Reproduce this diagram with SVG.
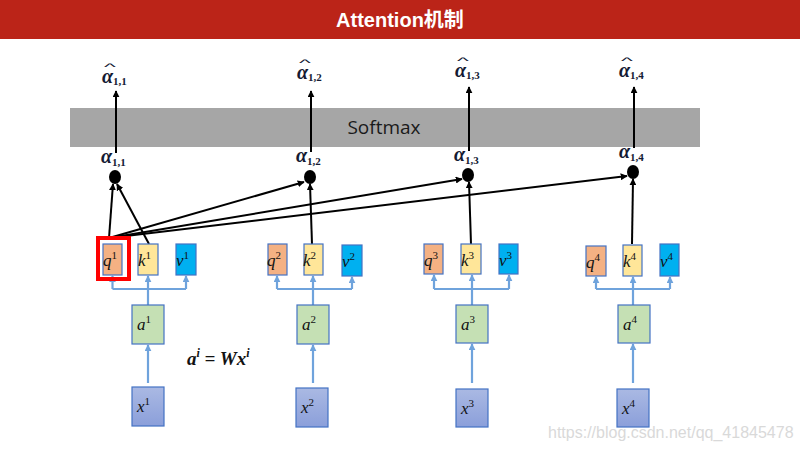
<svg xmlns="http://www.w3.org/2000/svg" width="800" height="450" viewBox="0 0 800 450">
<defs>
<marker id="ab" viewBox="0 0 10 10" refX="9" refY="5" markerWidth="7" markerHeight="7" markerUnits="userSpaceOnUse" orient="auto"><path d="M0,0 L10,5 L0,10 z" fill="#000"/></marker>
<marker id="abl" viewBox="0 0 10 10" refX="9" refY="5" markerWidth="7" markerHeight="7" markerUnits="userSpaceOnUse" orient="auto"><path d="M0,0 L10,5 L0,10 z" fill="#6FA3DC"/></marker>
<linearGradient id="gx" x1="0" y1="0" x2="0" y2="1"><stop offset="0" stop-color="#AAB9E3"/><stop offset="1" stop-color="#8B9FDA"/></linearGradient>
</defs>
<style>
.box{stroke:#4472C4;stroke-width:1.2}
.q{fill:#F4B183}.k{fill:#FFE699}.v{fill:#00B0F0}.a{fill:#C5E0B4}.x{fill:url(#gx)}
.lbl{font-family:"Liberation Serif",serif;font-style:italic;font-size:17px;fill:#111}
.sup{font-size:11px;font-style:normal}
.alpha{font-family:"Liberation Serif",serif;font-style:italic;font-weight:bold;font-size:20px;fill:#141a33}
.sub{font-size:11px;font-style:normal}
.hat{font-family:"Liberation Sans",sans-serif;font-size:14px;fill:#141a33}
.blk{stroke:#000;stroke-width:2;fill:none;marker-end:url(#ab)}
.blu{stroke:#6FA3DC;stroke-width:2.2;fill:none}
.blua{stroke:#6FA3DC;stroke-width:2.2;fill:none;marker-end:url(#abl)}
</style>
<rect x="0" y="0" width="800" height="450" fill="#fff"/>
<g id="title">
<rect x="0" y="0" width="800" height="39" fill="#BB2418"/>
<text x="400" y="27" text-anchor="middle" font-family="Liberation Sans, Noto Sans CJK SC, sans-serif" font-weight="bold" font-size="20" fill="#fff">Attention机制</text>
</g>
<g id="softmax">
<rect x="70" y="108" width="630" height="39" fill="#A6A6A6"/>
<text x="384" y="134" text-anchor="middle" font-family="Open Sans, sans-serif" font-size="19" fill="#1a1a1a">Softmax</text>
</g>
<g id="connectors">
<line class="blk" x1="116" y1="153" x2="116" y2="91"/>
<line class="blk" x1="311" y1="152" x2="311" y2="91"/>
<line class="blk" x1="469" y1="151" x2="469" y2="87"/>
<line class="blk" x1="634" y1="148" x2="634" y2="87"/>
<line class="blk" x1="109" y1="238" x2="113" y2="184"/>
<line class="blk" x1="149" y1="244" x2="117" y2="184"/>
<line class="blk" x1="109" y1="238" x2="304" y2="182"/>
<line class="blk" x1="109" y1="238" x2="462" y2="179"/>
<line class="blk" x1="109" y1="238" x2="627" y2="176"/>
<line class="blk" x1="312" y1="244" x2="310" y2="184"/>
<line class="blk" x1="471" y1="244" x2="469" y2="182"/>
<line class="blk" x1="632" y1="244" x2="633" y2="179"/>
<g id="blue-c1">
<line class="blua" x1="148" y1="305" x2="148" y2="276"/>
<polyline class="blu" points="112.5,289 186,289"/>
<line class="blua" x1="112.5" y1="289" x2="112.5" y2="276"/>
<line class="blua" x1="186" y1="289" x2="186" y2="276"/>
<line class="blua" x1="148" y1="383" x2="148" y2="345"/>
</g>
<g id="blue-c2">
<line class="blua" x1="313" y1="305" x2="313" y2="276"/>
<polyline class="blu" points="277,289 352,289"/>
<line class="blua" x1="277" y1="289" x2="277" y2="276"/>
<line class="blua" x1="352" y1="289" x2="352" y2="277"/>
<line class="blua" x1="313" y1="383" x2="313" y2="345"/>
</g>
<g id="blue-c3">
<line class="blua" x1="472" y1="305" x2="472" y2="275"/>
<polyline class="blu" points="434,289 509,289"/>
<line class="blua" x1="434" y1="289" x2="434" y2="275"/>
<line class="blua" x1="509" y1="289" x2="509" y2="275"/>
<line class="blua" x1="472" y1="383" x2="472" y2="344"/>
</g>
<g id="blue-c4">
<line class="blua" x1="633" y1="305" x2="633" y2="277"/>
<polyline class="blu" points="596,289 670,289"/>
<line class="blua" x1="596" y1="289" x2="596" y2="277"/>
<line class="blua" x1="670" y1="289" x2="670" y2="277"/>
<line class="blua" x1="633" y1="383" x2="633" y2="344"/>
</g>
</g>
<g id="dots" fill="#000">
<ellipse id="dot1" cx="115" cy="177" rx="6" ry="7"/>
<ellipse id="dot2" cx="310" cy="177" rx="6" ry="7"/>
<ellipse id="dot3" cx="468" cy="175" rx="6" ry="7"/>
<ellipse id="dot4" cx="633" cy="172" rx="6" ry="7"/>
</g>
<g id="alpha-labels">
<g id="ah11"><text class="hat" transform="translate(104,70) scale(1.8,0.6)">^</text><text class="alpha" x="102" y="83">α<tspan class="sub" dy="2">1,1</tspan></text></g>
<g id="ah12"><text class="hat" transform="translate(299,66) scale(1.8,0.6)">^</text><text class="alpha" x="297" y="79">α<tspan class="sub" dy="2">1,2</tspan></text></g>
<g id="ah13"><text class="hat" transform="translate(457,64) scale(1.8,0.6)">^</text><text class="alpha" x="455" y="77">α<tspan class="sub" dy="2">1,3</tspan></text></g>
<g id="ah14"><text class="hat" transform="translate(621,64) scale(1.8,0.6)">^</text><text class="alpha" x="619" y="77">α<tspan class="sub" dy="2">1,4</tspan></text></g>
<g id="a11"><text class="alpha" x="101" y="163">α<tspan class="sub" dy="3">1,1</tspan></text></g>
<g id="a12"><text class="alpha" x="296" y="162">α<tspan class="sub" dy="3">1,2</tspan></text></g>
<g id="a13"><text class="alpha" x="454" y="161">α<tspan class="sub" dy="3">1,3</tspan></text></g>
<g id="a14"><text class="alpha" x="619" y="158">α<tspan class="sub" dy="3">1,4</tspan></text></g>
</g>
<g id="col1">
<g id="q1"><rect class="box q" x="103" y="244" width="19" height="31"/><text class="lbl" x="103" y="266">q<tspan class="sup" dy="-7">1</tspan></text></g>
<rect id="q1-highlight" x="98" y="238" width="31" height="41" fill="none" stroke="#FF0000" stroke-width="4"/>
<g id="k1"><rect class="box k" x="138" y="244" width="20" height="31"/><text class="lbl" x="138" y="266">k<tspan class="sup" dy="-7">1</tspan></text></g>
<g id="v1"><rect class="box v" x="176" y="244" width="20" height="31"/><text class="lbl" x="176" y="266">v<tspan class="sup" dy="-7">1</tspan></text></g>
<g id="a1"><rect class="box a" x="132" y="305" width="32" height="39"/><text class="lbl" x="137" y="330">a<tspan class="sup" dy="-7">1</tspan></text></g>
<g id="x1"><rect class="box x" x="132" y="387" width="32" height="39"/><text class="lbl" x="137" y="412">x<tspan class="sup" dy="-7">1</tspan></text></g>
</g>
<g id="col2">
<g id="q2"><rect class="box q" x="268" y="244" width="19" height="31"/><text class="lbl" x="267" y="266">q<tspan class="sup" dy="-7">2</tspan></text></g>
<g id="k2"><rect class="box k" x="304" y="244" width="19" height="31"/><text class="lbl" x="303" y="266">k<tspan class="sup" dy="-7">2</tspan></text></g>
<g id="v2"><rect class="box v" x="342" y="245" width="20" height="31"/><text class="lbl" x="342" y="267">v<tspan class="sup" dy="-7">2</tspan></text></g>
<g id="a2"><rect class="box a" x="297" y="305" width="32" height="39"/><text class="lbl" x="302" y="330">a<tspan class="sup" dy="-7">2</tspan></text></g>
<g id="x2"><rect class="box x" x="296" y="388" width="32" height="39"/><text class="lbl" x="301" y="413">x<tspan class="sup" dy="-7">2</tspan></text></g>
</g>
<g id="col3">
<g id="q3"><rect class="box q" x="424" y="244" width="19" height="30"/><text class="lbl" x="424" y="266">q<tspan class="sup" dy="-7">3</tspan></text></g>
<g id="k3"><rect class="box k" x="461" y="244" width="20" height="30"/><text class="lbl" x="461" y="266">k<tspan class="sup" dy="-7">3</tspan></text></g>
<g id="v3"><rect class="box v" x="499" y="244" width="19" height="30"/><text class="lbl" x="499" y="266">v<tspan class="sup" dy="-7">3</tspan></text></g>
<g id="a3"><rect class="box a" x="456" y="305" width="32" height="38"/><text class="lbl" x="461" y="330">a<tspan class="sup" dy="-7">3</tspan></text></g>
<g id="x3"><rect class="box x" x="456" y="389" width="32" height="38"/><text class="lbl" x="461" y="414">x<tspan class="sup" dy="-7">3</tspan></text></g>
</g>
<g id="col4">
<g id="q4"><rect class="box q" x="586" y="246" width="20" height="30"/><text class="lbl" x="586" y="268">q<tspan class="sup" dy="-7">4</tspan></text></g>
<g id="k4"><rect class="box k" x="623" y="245" width="19" height="31"/><text class="lbl" x="623" y="267">k<tspan class="sup" dy="-7">4</tspan></text></g>
<g id="v4"><rect class="box v" x="660" y="244" width="19" height="32"/><text class="lbl" x="660" y="267">v<tspan class="sup" dy="-7">4</tspan></text></g>
<g id="a4"><rect class="box a" x="618" y="305" width="32" height="38"/><text class="lbl" x="623" y="330">a<tspan class="sup" dy="-7">4</tspan></text></g>
<g id="x4"><rect class="box x" x="617" y="389" width="32" height="38"/><text class="lbl" x="622" y="414">x<tspan class="sup" dy="-7">4</tspan></text></g>
</g>
<g id="formula">
<text x="187" y="365" font-family="Liberation Serif, serif" font-style="italic" font-weight="bold" font-size="19" fill="#111">a<tspan font-size="12" dy="-8">i</tspan><tspan dy="8"> = Wx</tspan><tspan font-size="12" dy="-8">i</tspan></text>
</g>
<text id="watermark" x="548" y="438" font-family="Liberation Sans, sans-serif" font-size="16" fill="#D9D9D9">https://blog.csdn.net/qq_41845478</text>
</svg>
